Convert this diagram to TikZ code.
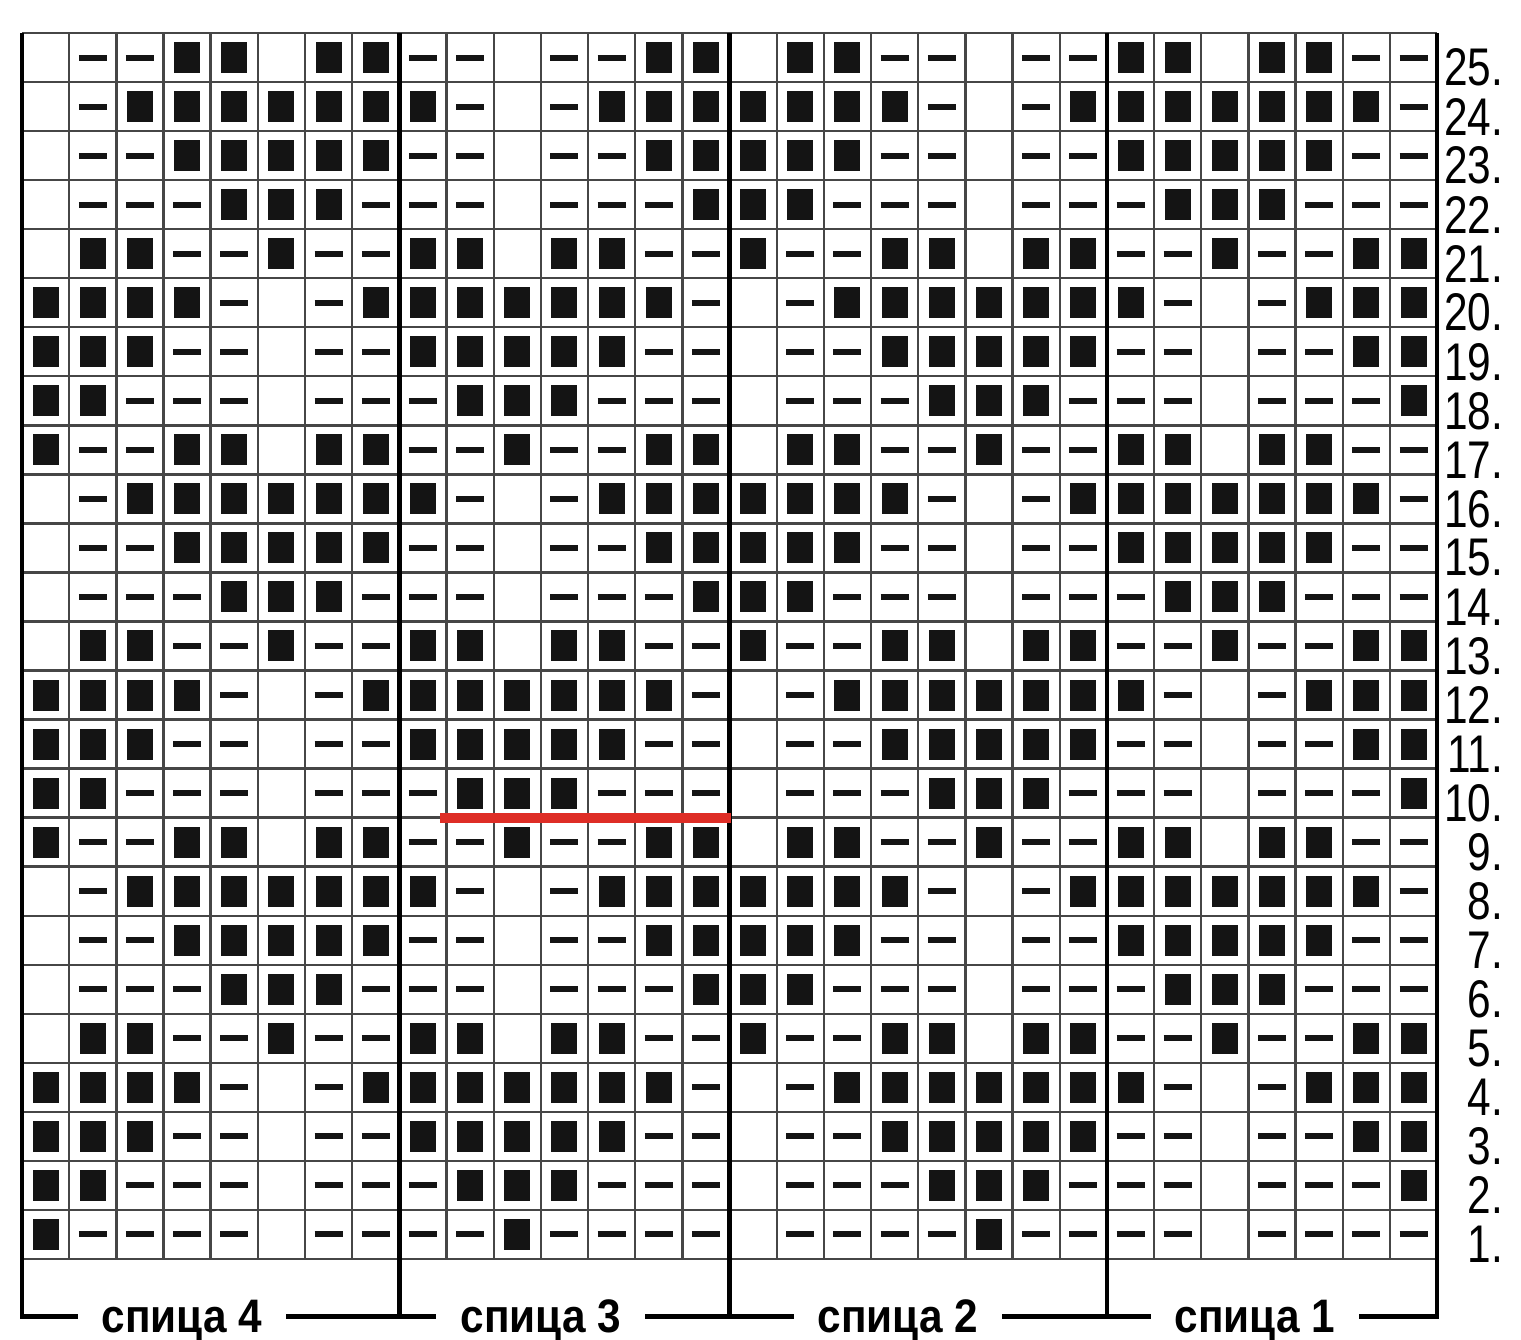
\documentclass[tikz,border=0pt]{standalone}
\usepackage{fontspec}
\setmainfont{Liberation Sans}
\newfontfamily\numfont[FakeStretch=0.8]{Liberation Sans}
\newfontfamily\labfont[FakeStretch=0.9]{Liberation Sans}
\usepackage{tikz}
\usetikzlibrary{calc}
\definecolor{chartred}{RGB}{222, 45, 38}
\definecolor{inkgray}{RGB}{70, 70, 70}

\begin{document}
\begin{tikzpicture}[
    x=47.17pt, y=49.04pt,
    gridln/.style={line width=2.4pt, draw=inkgray},
    frame/.style={line width=4.5pt, draw=black},
    knit/.style={fill=black!92},
    purl/.style={line width=6pt, draw=black!92},
    num/.style={font=\numfont\fontsize{53}{53}\selectfont, inner sep=0pt, anchor=east},
    lab/.style={font=\labfont\bfseries\fontsize{47}{47}\selectfont,
                text height=32pt, text depth=0pt, inner xsep=24pt,
                inner ysep=0pt, anchor=base},
    redbar/.style={line width=10pt, draw=chartred},
  ]
    \useasboundingbox (-0.4664,-1.6517) rectangle (31.779,25.673);

    \draw[gridln, step=1] (0,0) grid (30,25);

    % 0 = empty, 1 = knit, 2 = purl; one repeat of 10 stitches
    \foreach \r/\cells in {
        1/{1,2,2,2,2,0,2,2,2,2}, 2/{1,1,2,2,2,0,2,2,2,1},
        3/{1,1,1,2,2,0,2,2,1,1}, 4/{1,1,1,1,2,0,2,1,1,1},
        5/{0,1,1,2,2,1,2,2,1,1}, 6/{0,2,2,2,1,1,1,2,2,2},
        7/{0,2,2,1,1,1,1,1,2,2}, 8/{0,2,1,1,1,1,1,1,1,2},
        9/{1,2,2,1,1,0,1,1,2,2}, 10/{1,1,2,2,2,0,2,2,2,1},
        11/{1,1,1,2,2,0,2,2,1,1}, 12/{1,1,1,1,2,0,2,1,1,1},
        13/{0,1,1,2,2,1,2,2,1,1}, 14/{0,2,2,2,1,1,1,2,2,2},
        15/{0,2,2,1,1,1,1,1,2,2}, 16/{0,2,1,1,1,1,1,1,1,2},
        17/{1,2,2,1,1,0,1,1,2,2}, 18/{1,1,2,2,2,0,2,2,2,1},
        19/{1,1,1,2,2,0,2,2,1,1}, 20/{1,1,1,1,2,0,2,1,1,1},
        21/{0,1,1,2,2,1,2,2,1,1}, 22/{0,2,2,2,1,1,1,2,2,2},
        23/{0,2,2,1,1,1,1,1,2,2}, 24/{0,2,1,1,1,1,1,1,1,2},
        25/{0,2,2,1,1,0,1,1,2,2}} {
      \foreach \s [count=\c] in \cells {
        \foreach \k in {0,10,20} {
          \ifnum\s=1
            \fill[knit] (\k+\c-0.5,\r-0.5) ++(-13pt,-15.5pt) rectangle ++(26pt,31pt);
          \fi
          \ifnum\s=2
            \draw[purl] (\k+\c-0.5,\r-0.5) ++(-14pt,0) -- ++(28pt,0);
          \fi
        }
      }
      \node[num] (row\r) at (31.40,\r-0.704) {\r.};
    }

    \node[lab] (n4) at (3.39,-1.50) {спица 4};
    \node[lab] (n3) at (11.0,-1.50) {спица 3};
    \node[lab] (n2) at (18.57,-1.50) {спица 2};
    \node[lab] (n1) at (26.14,-1.50) {спица 1};

    \draw[frame] (0,25) |- (n4.west);
    \draw[frame] (n4.east) -- (n3.west);
    \draw[frame] (n3.east) -- (n2.west);
    \draw[frame] (n2.east) -- (n1.west);
    \draw[frame] (n1.east) -| (30,25);
    \foreach \x in {8,15,23}
      \draw[frame] (\x,25) -- (\x,0 |- n4.east);

    \draw[redbar] (8.862,9) -- (15.03,9);
  \end{tikzpicture}
\end{document}
